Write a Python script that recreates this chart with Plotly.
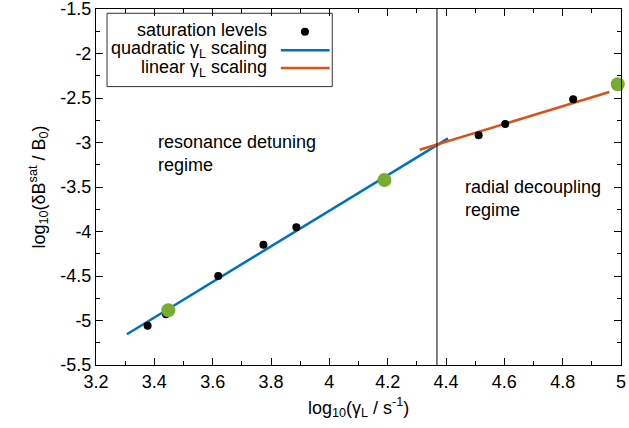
import plotly.graph_objects as go

# saturation levels (black dots)
sat_x = [3.377, 3.44, 3.619, 3.774, 3.887, 4.512, 4.603, 4.836]
sat_y = [-5.058, -4.930, -4.500, -4.148, -3.953, -2.919, -2.792, -2.515]

# highlighted points (green)
hl_x = [3.448, 4.189, 4.989]
hl_y = [-4.885, -3.421, -2.346]

# quadratic scaling fit line
quad_x = [3.306, 4.407]
quad_y = [-5.155, -2.953]

# linear scaling fit line
lin_x = [4.310, 4.960]
lin_y = [-3.081, -2.433]

# regime boundary
boundary_x = 4.369

x_range = [3.2, 5.0]
y_range = [-5.5, -1.5]
x_ticks = [3.2, 3.4, 3.6, 3.8, 4.0, 4.2, 4.4, 4.6, 4.8, 5.0]
x_ticklabels = ["3.2", "3.4", "3.6", "3.8", "4", "4.2", "4.4", "4.6", "4.8", "5"]
y_ticks = [-5.5, -5.0, -4.5, -4.0, -3.5, -3.0, -2.5, -2.0, -1.5]
y_ticklabels = ["-5.5", "-5", "-4.5", "-4", "-3.5", "-3", "-2.5", "-2", "-1.5"]

FONT = "Liberation Sans, Arial, sans-serif"
BLUE = "#0072bd"
ORANGE = "#d95319"
GREEN = "#77ac30"

fig = go.Figure()
fig.add_trace(go.Scatter(x=quad_x, y=quad_y, mode="lines",
                         line=dict(color=BLUE, width=2.5), showlegend=False))
fig.add_trace(go.Scatter(x=lin_x, y=lin_y, mode="lines",
                         line=dict(color=ORANGE, width=2.5), showlegend=False))
fig.add_trace(go.Scatter(x=sat_x, y=sat_y, mode="markers",
                         marker=dict(color="black", size=8), showlegend=False))
fig.add_trace(go.Scatter(x=hl_x, y=hl_y, mode="markers",
                         marker=dict(color=GREEN, size=14), showlegend=False,
                         cliponaxis=False))

# vertical boundary line
fig.add_shape(type="line", xref="x", yref="paper", x0=boundary_x, x1=boundary_x,
              y0=0, y1=1, line=dict(color="black", width=1))

# manual legend (text right, sample on the right)
fig.add_shape(type="rect", xref="paper", yref="paper", x0=0.021, x1=0.450,
              y0=0.782, y1=0.988, line=dict(color="#333", width=1),
              fillcolor="white", layer="below")
leg_rows = [0.940, 0.885, 0.834]
leg_text = ["saturation levels", "quadratic γ<sub>L</sub> scaling", "linear γ<sub>L</sub> scaling"]
for yy, t in zip(leg_rows, leg_text):
    fig.add_annotation(xref="paper", yref="paper", x=0.329, y=yy, text=t,
                       showarrow=False, xanchor="right", yanchor="middle",
                       font=dict(family=FONT, size=18, color="black"))
fig.add_shape(type="circle", xref="paper", yref="paper",
              x0=0.398 - 0.0076, x1=0.398 + 0.0076, y0=0.936 - 0.0113, y1=0.936 + 0.0113,
              fillcolor="black", line=dict(width=0))
fig.add_shape(type="line", xref="paper", yref="paper", x0=0.352, x1=0.445,
              y0=0.884, y1=0.884, line=dict(color=BLUE, width=2.5))
fig.add_shape(type="line", xref="paper", yref="paper", x0=0.352, x1=0.445,
              y0=0.834, y1=0.834, line=dict(color=ORANGE, width=2.5))

fig.add_annotation(x=3.405, y=-3.125, text="resonance detuning<br>regime", showarrow=False,
                   xanchor="left", yanchor="middle", align="left",
                   font=dict(family=FONT, size=18, color="black"))
fig.add_annotation(x=4.459, y=-3.633, text="radial decoupling<br>regime", showarrow=False,
                   xanchor="left", yanchor="middle", align="left",
                   font=dict(family=FONT, size=18, color="black"))

# x-axis title placed just below the tick labels
fig.add_annotation(xref="paper", yref="paper", x=0.5, y=-0.118,
                   text="log<sub>10</sub>(γ<sub>L</sub> / s<sup>-1</sup>)",
                   showarrow=False, xanchor="center", yanchor="middle",
                   font=dict(family=FONT, size=18, color="black"))

axis_common = dict(showgrid=False, zeroline=False, showline=True, linecolor="black",
                   linewidth=1, mirror="allticks", ticks="inside", ticklen=7,
                   tickcolor="black", tickwidth=1, ticklabeloverflow="allow",
                   automargin=False,
                   tickfont=dict(family=FONT, size=18, color="black"))

fig.update_xaxes(range=x_range, tickmode="array", tickvals=x_ticks, ticktext=x_ticklabels,
                 minor=dict(dtick=0.1, tick0=3.2, ticks="inside", ticklen=4, tickcolor="black"),
                 **axis_common)
fig.update_yaxes(range=y_range, tickmode="array", tickvals=y_ticks, ticktext=y_ticklabels,
                 minor=dict(dtick=0.25, tick0=-1.5, ticks="inside", ticklen=4, tickcolor="black"),
                 title=dict(text="log<sub>10</sub>(δB<sup>sat</sup> / B<sub>0</sub>)",
                            font=dict(family=FONT, size=18, color="black"), standoff=10),
                 **axis_common)

fig.update_layout(width=629, height=428, margin=dict(l=96, r=8, t=9, b=63),
                  plot_bgcolor="white", paper_bgcolor="white", showlegend=False)

fig.write_html("out.html")
